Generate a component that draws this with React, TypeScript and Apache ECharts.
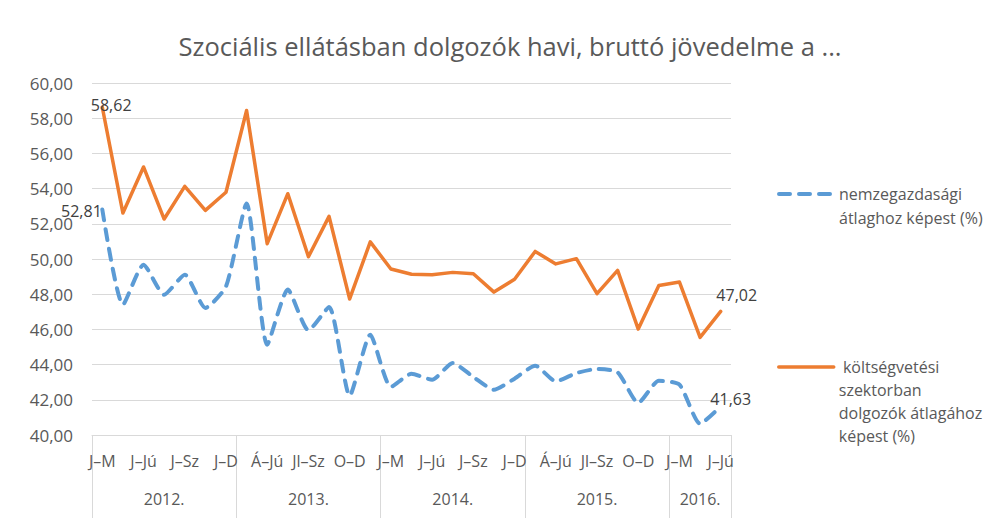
import React, { useEffect, useRef } from 'react';
import * as echarts from 'echarts';

const years = ['2012.', '2013.', '2014.', '2015.', '2016.'];
const periodsFullYear = ['J–M', 'Á–Jú', 'J–Jú', 'Jl–Sz', 'J–Sz', 'O–D', 'J–D'];
const periods2016 = ['J–M', 'Á–Jú', 'J–Jú'];
const yearPeriods = [periodsFullYear, periodsFullYear, periodsFullYear, periodsFullYear, periods2016];

const nameNemzet = 'nemzegazdasági átlaghoz képest (%)';
const nameKoltseg = ' költségvetési szektorban dolgozók átlagához képest (%)';
const legendLinesNemzet = ['nemzegazdasági', 'átlaghoz képest (%)'];
const legendLinesKoltseg = [' költségvetési', 'szektorban', 'dolgozók átlagához', 'képest (%)'];

const nemzetValues = [
  52.81, 47.4, 49.68, 47.97, 49.11, 47.22, 48.44,
  53.15, 45.13, 48.26, 45.95, 47.27, 42.23, 45.7,
  42.73, 43.48, 43.14, 44.09, 43.3, 42.57, 43.2,
  43.94, 43.05, 43.52, 43.75, 43.56, 41.82, 43.08,
  42.86, 40.64, 41.63,
];
const koltsegValues = [
  58.62, 52.61, 55.23, 52.27, 54.13, 52.76, 53.79,
  58.44, 50.87, 53.71, 50.13, 52.42, 47.73, 50.97,
  49.43, 49.13, 49.11, 49.24, 49.16, 48.12, 48.85,
  50.43, 49.72, 50.02, 48.03, 49.35, 46.02, 48.5,
  48.69, 45.55, 47.02,
];
const yTicks = { min: 40, max: 60, interval: 2 };

export default function App() {
  const ref = useRef<HTMLDivElement>(null);
  useEffect(() => {
    if (!ref.current) return;
    const chart = echarts.init(ref.current, null, { renderer: 'svg' });

    const categories: string[] = [];
    const yearStart: number[] = [];
    const yearMid: Record<number, string> = {};
    yearPeriods.forEach((ps, yi) => {
      const start = categories.length;
      yearStart.push(start);
      yearMid[start + Math.floor(ps.length / 2)] = years[yi];
      ps.forEach((p) => categories.push(p));
    });
    const last = categories.length - 1;
    const fmt = (v: number) => v.toFixed(2).replace('.', ',');
    const font = 'Open Sans';
    const grey = '#595959';
    const labelStyle = { show: true, color: '#404040', fontSize: 16, fontFamily: font, formatter: (p: any) => fmt(p.value) };
    const hiddenSym = { symbol: 'circle', symbolSize: 1, itemStyle: { color: 'rgba(0,0,0,0)' } };

    const blueData = nemzetValues.map((v, i) => {
      if (i === 0) return { value: v, ...hiddenSym, label: { ...labelStyle, position: 'left', distance: 0, offset: [0, 1] } };
      if (i === last) return { value: v, ...hiddenSym, label: { ...labelStyle, position: 'top', offset: [10, 6] } };
      return v;
    });
    const orangeData = koltsegValues.map((v, i) => {
      if (i === 0) return { value: v, ...hiddenSym, label: { ...labelStyle, position: 'right', offset: [-17, -2] } };
      if (i === last) return { value: v, ...hiddenSym, label: { ...labelStyle, position: 'top', offset: [16, -3] } };
      return v;
    });

    // prepend (n-1) blank lines so the first real line sits level with the icon
    const legendBlock = (lines: string[]) => '\n'.repeat(lines.length - 1) + lines.join('\n');
    const legendText = { fontSize: 16, fontFamily: font, color: grey };
    const legendCommon = {
      left: 777,
      padding: 0,
      itemWidth: 55,
      itemHeight: 14,
      itemStyle: { opacity: 0, borderWidth: 0 },
    };

    chart.setOption({
      animation: false,
      textStyle: { fontFamily: font },
      title: {
        text: 'Szociális ellátásban dolgozók havi, bruttó jövedelme a ...',
        left: 505,
        textAlign: 'center',
        top: 28,
        textStyle: { fontSize: 25.5, fontWeight: 'normal', color: grey, fontFamily: font },
      },
      legend: [
        {
          ...legendCommon,
          data: [nameNemzet],
          top: 194 - (3 * 24) / 2,
          lineStyle: { width: 4 },
          formatter: () => legendBlock(legendLinesNemzet),
          textStyle: { ...legendText, lineHeight: 24 },
        },
        {
          ...legendCommon,
          data: [nameKoltseg],
          top: 367 - (7 * 23) / 2,
          lineStyle: { width: 3.5 },
          formatter: () => legendBlock(legendLinesKoltseg),
          textStyle: { ...legendText, lineHeight: 23 },
        },
      ],
      grid: { left: 92, right: 262, top: 83, bottom: 91, containLabel: false },
      xAxis: [
        {
          type: 'category',
          data: categories,
          boundaryGap: true,
          axisLine: { show: true, lineStyle: { color: '#d9d9d9', width: 1 } },
          axisTick: { show: false },
          axisLabel: { interval: 1, margin: 18, fontSize: 16, color: grey, fontFamily: font },
        },
        {
          type: 'category',
          data: categories,
          position: 'bottom',
          boundaryGap: true,
          axisLine: { show: false },
          axisTick: {
            show: true,
            length: 83,
            interval: (index: number) => yearStart.indexOf(index) >= 0,
            lineStyle: { color: '#d9d9d9', width: 1 },
          },
          axisLabel: {
            interval: (index: number) => yearMid[index] !== undefined,
            formatter: (_v: string, index: number) => yearMid[index] || '',
            margin: 56,
            fontSize: 16,
            color: grey,
            fontFamily: font,
          },
          splitLine: { show: false },
        },
      ],
      yAxis: {
        type: 'value',
        min: yTicks.min,
        max: yTicks.max,
        interval: yTicks.interval,
        axisLine: { show: false },
        axisTick: { show: false },
        splitLine: { lineStyle: { color: '#d9d9d9', width: 1 } },
        axisLabel: { margin: 19, fontSize: 17, color: grey, fontFamily: font, formatter: (v: number) => fmt(v) },
      },
      series: [
        {
          name: nameNemzet,
          type: 'line',
          data: blueData,
          symbol: 'none',
          smooth: 0.2,
          color: '#5B9BD5',
          lineStyle: { color: '#5B9BD5', width: 4, type: [11, 9], cap: 'round', join: 'round' },
          z: 2,
        },
        {
          name: nameKoltseg,
          type: 'line',
          data: orangeData,
          symbol: 'none',
          color: '#ED7D31',
          lineStyle: { color: '#ED7D31', width: 3.5, cap: 'round', join: 'round' },
          z: 3,
        },
      ],
    });
    return () => chart.dispose();
  }, []);
  return <div ref={ref} style={{ position: 'fixed', left: 0, top: 0, width: 993, height: 526, background: '#fff' }} />;
}
